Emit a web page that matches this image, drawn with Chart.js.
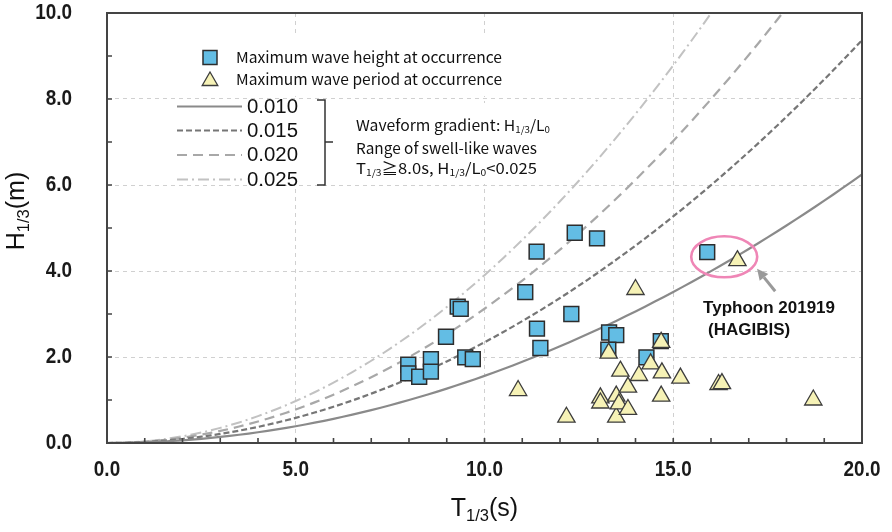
<!DOCTYPE html>
<html>
<head>
<meta charset="utf-8">
<script src="https://cdn.jsdelivr.net/npm/chart.js@4.4.1/dist/chart.umd.min.js"></script>
<style>
  html, body { margin: 0; padding: 0; background: #fff; }
  #wrap { width: 892px; height: 532px; }
</style>
</head>
<body>
<div id="wrap"><canvas id="c" width="892" height="532"></canvas></div>
<script>
// Significant wave period T1/3 (s) and height H1/3 (m) at the time of maximum wave height
const heightPeakT = [7.98, 7.98, 8.27, 8.58, 8.58, 8.98, 9.29, 9.37, 9.49, 9.69, 11.08, 11.38,
                     11.39, 11.48, 12.30, 12.39, 12.98, 13.30, 13.49, 13.28, 14.29, 14.67, 15.90];
const heightPeakH = [1.82, 1.62, 1.54, 1.95, 1.66, 2.47, 3.17, 3.12, 1.99, 1.95, 3.51, 4.45,
                     2.66, 2.21, 3.00, 4.89, 4.76, 2.57, 2.51, 2.17, 1.99, 2.37, 4.44];

// Significant wave period and height at the time of maximum wave period
const periodPeakT = [10.89, 12.17, 13.07, 13.07, 13.29, 13.49, 13.49, 13.56, 13.60, 13.80, 13.80,
                     14.00, 14.09, 14.40, 14.68, 14.70, 14.68, 15.19, 16.20, 16.29, 16.70, 18.71];
const periodPeakH = [1.22, 0.60, 1.05, 0.93, 2.09, 1.09, 0.60, 0.91, 1.67, 1.30, 0.78,
                     3.57, 1.57, 1.84, 2.34, 1.63, 1.09, 1.51, 1.36, 1.38, 4.24, 1.00];

// Wave steepness H1/3 / L0 of the reference curves (L0 = g T^2 / 2π)
const steepness = [0.010, 0.015, 0.020, 0.025];
const steepnessLabels = ['0.010', '0.015', '0.020', '0.025'];
const curvePeriods = Array.from({ length: 81 }, (_, i) => i * 0.25);

// Axis ticks
const xTickStep = 5;
const yTickStep = 2;

const G = 9.81;
const deepWaterLength = t => G * t * t / (2 * Math.PI);

const curveStyles = [
  { color: '#8a8a8a', width: 2.2, dash: [] },
  { color: '#767676', width: 2.2, dash: [6, 3] },
  { color: '#a8a8a8', width: 2.2, dash: [10, 6] },
  { color: '#c2c2c2', width: 2,   dash: [11, 4, 2, 4] }
];

const BLUE = '#63bde4';
const YELLOW = '#f6f2b6';
const JP_FONT = "'Noto Sans CJK JP', 'Noto Sans', sans-serif";
const SANS = "'Liberation Sans', Arial, sans-serif";

const curveDatasets = steepness.map((s, i) => ({
  label: steepnessLabels[i],
  data: curvePeriods.map(t => ({ x: t, y: s * deepWaterLength(t) })),
  showLine: true,
  pointRadius: 0,
  borderColor: curveStyles[i].color,
  borderWidth: curveStyles[i].width,
  borderDash: curveStyles[i].dash,
  tension: 0,
  fill: false,
  order: 2
}));

// Draw mixed normal / subscript text, optionally squeezed horizontally
function drawRich(ctx, segs, x, y, o) {
  const weight = o.weight || 'normal';
  const subSize = o.size * (o.subRatio || 0.62);
  const fontOf = s => `${weight} ${s.sub ? subSize : o.size}px ${o.family}`;
  const widths = segs.map(s => { ctx.font = fontOf(s); return ctx.measureText(s.t).width; });
  const total = widths.reduce((a, b) => a + b, 0);
  const sx = o.width ? o.width / total : (o.sx || 1);
  ctx.save();
  ctx.translate(x, y);
  if (o.rotate) ctx.rotate(o.rotate);
  ctx.scale(sx, 1);
  let cx = o.align === 'center' ? -total / 2 : (o.align === 'right' ? -total : 0);
  ctx.fillStyle = o.color || '#111';
  ctx.textBaseline = 'middle';
  ctx.textAlign = 'left';
  segs.forEach((s, i) => {
    ctx.font = fontOf(s);
    ctx.fillText(s.t, cx, s.sub ? o.size * (o.subDrop || 0.28) : 0);
    cx += widths[i];
  });
  ctx.restore();
}

function drawTriangle(ctx, x, y, r) {
  ctx.beginPath();
  ctx.moveTo(x, y - r);
  ctx.lineTo(x + r * Math.sin(2 * Math.PI / 3), y + r / 2);
  ctx.lineTo(x - r * Math.sin(2 * Math.PI / 3), y + r / 2);
  ctx.closePath();
}

const decor = {
  id: 'decor',
  beforeDatasetsDraw(chart) {
    const ctx = chart.ctx;
    // plain backgrounds behind the two legend blocks
    ctx.save();
    ctx.fillStyle = '#ffffff';
    ctx.fillRect(185, 35, 335, 61);
    ctx.fillRect(168, 103, 392, 81);
    ctx.restore();
  },
  afterDraw(chart) {
    const ctx = chart.ctx;
    const a = chart.chartArea;
    const xs = chart.scales.x, ys = chart.scales.y;

    // plot frame
    ctx.save();
    ctx.strokeStyle = '#444';
    ctx.lineWidth = 2;
    ctx.strokeRect(a.left, a.top, a.right - a.left, a.bottom - a.top);

    // inward minor tick marks every 1 unit
    ctx.lineWidth = 1.6;
    ctx.beginPath();
    for (let v = 1; v < 20; v++) {
      const px = xs.getPixelForValue(v);
      ctx.moveTo(px, a.bottom); ctx.lineTo(px, a.bottom - 5);
    }
    for (let v = 1; v < 10; v++) {
      const py = ys.getPixelForValue(v);
      ctx.moveTo(a.left, py); ctx.lineTo(a.left + 5, py);
    }
    ctx.stroke();
    ctx.restore();

    // tick labels (condensed numerals)
    xs.ticks.forEach(t => {
      drawRich(ctx, [{ t: t.value.toFixed(1) }], xs.getPixelForValue(t.value), a.bottom + 27,
        { size: 22, family: SANS, weight: 'bold', align: 'center', sx: 0.86, color: '#1a1a1a' });
    });
    ys.ticks.forEach(t => {
      drawRich(ctx, [{ t: t.value.toFixed(1) }], a.left - 35, ys.getPixelForValue(t.value),
        { size: 22, family: SANS, weight: 'bold', align: 'right', sx: 0.86, color: '#1a1a1a' });
    });

    // axis titles
    drawRich(ctx, [{ t: 'T' }, { t: '1/3', sub: true }, { t: '(s)' }],
      (a.left + a.right) / 2, 509, { size: 25, family: SANS, align: 'center', color: '#111', subRatio: 0.66 });
    drawRich(ctx, [{ t: 'H' }, { t: '1/3', sub: true }, { t: '(m)' }],
      17, 211, { size: 25, family: SANS, align: 'center', color: '#111', rotate: -Math.PI / 2, subRatio: 0.66 });

    // legend: markers
    ctx.save();
    ctx.fillStyle = BLUE; ctx.strokeStyle = '#2d2d2d'; ctx.lineWidth = 1.5;
    ctx.fillRect(203, 50.5, 14, 14); ctx.strokeRect(203, 50.5, 14, 14);
    ctx.fillStyle = YELLOW; ctx.strokeStyle = '#3c3c3c'; ctx.lineWidth = 1.3;
    drawTriangle(ctx, 210, 81, 9); ctx.fill(); ctx.stroke();
    ctx.restore();
    drawRich(ctx, [{ t: 'Maximum wave height at occurrence' }], 236, 57.5,
      { size: 15, family: JP_FONT, width: 266, color: '#111' });
    drawRich(ctx, [{ t: 'Maximum wave period at occurrence' }], 236, 79.5,
      { size: 15, family: JP_FONT, width: 266, color: '#111' });

    // legend: steepness curves
    const rowsY = [106.5, 130.5, 155, 179.5];
    steepness.forEach((s, i) => {
      ctx.save();
      ctx.strokeStyle = curveStyles[i].color;
      ctx.lineWidth = curveStyles[i].width;
      ctx.setLineDash(curveStyles[i].dash);
      ctx.beginPath(); ctx.moveTo(177, rowsY[i]); ctx.lineTo(242, rowsY[i]); ctx.stroke();
      ctx.restore();
      drawRich(ctx, [{ t: steepnessLabels[i] }], 247, rowsY[i] + 0.5,
        { size: 20, family: SANS, width: 51, color: '#111' });
    });

    // bracket
    ctx.save();
    ctx.strokeStyle = '#333'; ctx.lineWidth = 1.5;
    ctx.beginPath();
    ctx.moveTo(317, 100); ctx.lineTo(325, 100); ctx.lineTo(325, 185); ctx.lineTo(317, 185);
    ctx.moveTo(325, 142); ctx.lineTo(333, 142);
    ctx.stroke();
    ctx.restore();

    drawRich(ctx, [{ t: 'Waveform gradient: H' }, { t: '1/3', sub: true }, { t: '/L' }, { t: '0', sub: true }],
      356, 125, { size: 15, family: JP_FONT, width: 194, color: '#111' });
    drawRich(ctx, [{ t: 'Range of swell-like waves' }],
      356, 148, { size: 15, family: JP_FONT, width: 181, color: '#111' });
    drawRich(ctx, [{ t: 'T' }, { t: '1/3', sub: true }, { t: '≧8.0s, H' }, { t: '1/3', sub: true },
                   { t: '/L' }, { t: '0', sub: true }, { t: '<0.025' }],
      356, 168.5, { size: 15, family: JP_FONT, width: 181, color: '#111' });

    // Typhoon Hagibis annotation
    const ex = xs.getPixelForValue(16.35), ey = ys.getPixelForValue(4.33);
    ctx.save();
    ctx.strokeStyle = '#ef86b6'; ctx.lineWidth = 2.6;
    ctx.beginPath(); ctx.ellipse(ex, ey, 33, 20.5, 0, 0, Math.PI * 2); ctx.stroke();

    const tipX = xs.getPixelForValue(17.22), tipY = ys.getPixelForValue(4.05);
    const tailX = xs.getPixelForValue(17.70), tailY = ys.getPixelForValue(3.53);
    const ang = Math.atan2(tipY - tailY, tipX - tailX);
    const headLen = 11, headW = 5.5;
    const bx = tipX - headLen * Math.cos(ang), by = tipY - headLen * Math.sin(ang);
    ctx.strokeStyle = '#9a9a9a'; ctx.fillStyle = '#9a9a9a'; ctx.lineWidth = 3;
    ctx.beginPath(); ctx.moveTo(tailX, tailY); ctx.lineTo(bx, by); ctx.stroke();
    ctx.beginPath();
    ctx.moveTo(tipX, tipY);
    ctx.lineTo(bx + headW * Math.sin(ang), by - headW * Math.cos(ang));
    ctx.lineTo(bx - headW * Math.sin(ang), by + headW * Math.cos(ang));
    ctx.closePath(); ctx.fill();
    ctx.restore();

    drawRich(ctx, [{ t: 'Typhoon 201919' }], xs.getPixelForValue(15.79), ys.getPixelForValue(3.14),
      { size: 17, family: SANS, weight: 'bold', color: '#111' });
    drawRich(ctx, [{ t: '(HAGIBIS)' }], xs.getPixelForValue(15.92), ys.getPixelForValue(2.63),
      { size: 17, family: SANS, weight: 'bold', color: '#111' });
  }
};

new Chart(document.getElementById('c'), {
  type: 'scatter',
  data: {
    datasets: [
      {
        label: 'Maximum wave period at occurrence',
        data: periodPeakT.map((t, i) => ({ x: t, y: periodPeakH[i] })),
        pointStyle: 'triangle',
        pointRadius: 10,
        backgroundColor: YELLOW,
        borderColor: '#3c3c3c',
        borderWidth: 1.3,
        order: 0
      },
      {
        label: 'Maximum wave height at occurrence',
        data: heightPeakT.map((t, i) => ({ x: t, y: heightPeakH[i] })),
        pointStyle: 'rect',
        pointRadius: 10.5,
        backgroundColor: BLUE,
        borderColor: '#2d2d2d',
        borderWidth: 1.5,
        order: 1
      },
      ...curveDatasets
    ]
  },
  options: {
    responsive: false,
    animation: false,
    events: [],
    devicePixelRatio: 1,
    layout: { padding: { top: 13, right: 30, left: 0, bottom: 0 } },
    plugins: { legend: { display: false }, tooltip: { enabled: false } },
    scales: {
      x: {
        type: 'linear', min: 0, max: 20,
        grid: {
          drawTicks: false,
          lineWidth: 1,
          color: c => (c.tick && c.tick.value > 0 && c.tick.value < 20) ? '#d0d0d0' : 'rgba(0,0,0,0)'
        },
        border: { display: false, dash: [4, 4] },
        ticks: { display: false, stepSize: xTickStep },
        afterFit: s => { s.height = 89; s.paddingLeft = 0; s.paddingRight = 0; }
      },
      y: {
        type: 'linear', min: 0, max: 10,
        grid: {
          drawTicks: false,
          lineWidth: 1,
          color: c => (c.tick && c.tick.value > 0 && c.tick.value < 10) ? '#d0d0d0' : 'rgba(0,0,0,0)'
        },
        border: { display: false, dash: [4, 4] },
        ticks: { display: false, stepSize: yTickStep },
        afterFit: s => { s.width = 107; s.paddingTop = 0; s.paddingBottom = 0; }
      }
    }
  },
  plugins: [decor]
});
</script>
</body>
</html>
